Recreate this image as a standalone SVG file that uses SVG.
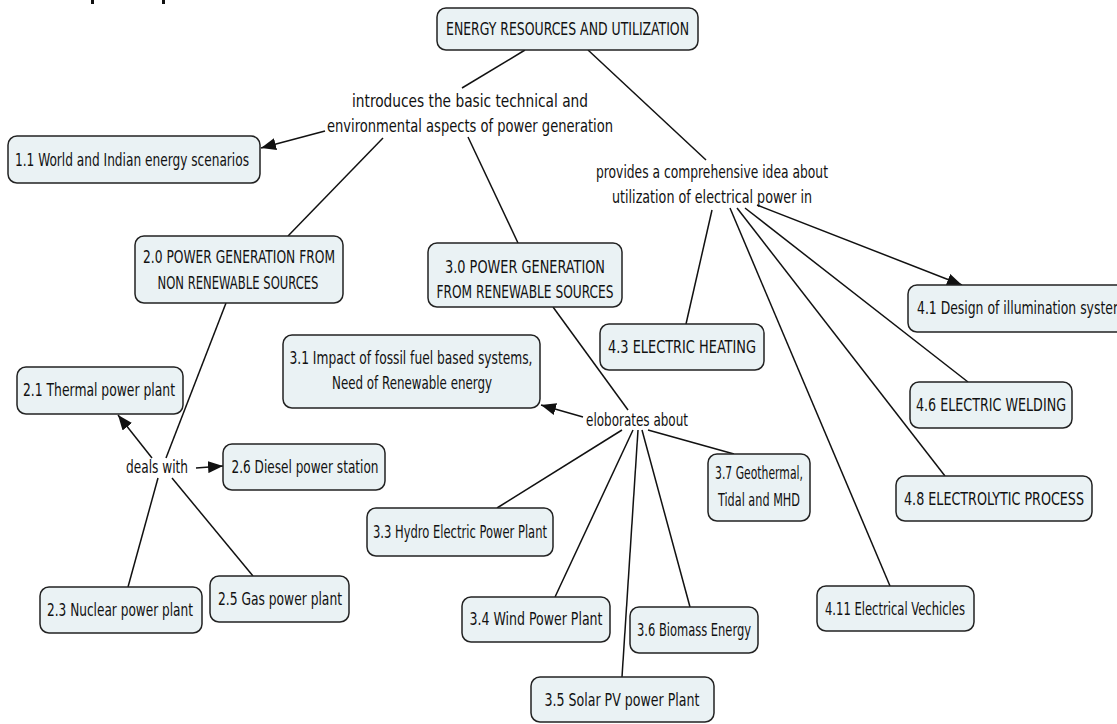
<svg xmlns="http://www.w3.org/2000/svg" width="1117" height="724" viewBox="0 0 1117 724">
<defs>
<style>
.n rect{fill:#eaf2f4;stroke:#222;stroke-width:1.5}
text{font-family:"DejaVu Sans Condensed","DejaVu Sans","Liberation Sans",sans-serif;font-size:17px;fill:#111;text-anchor:middle}
.c line{stroke:#111;stroke-width:1.5}
.a{marker-end:url(#ah)}
</style>
<marker id="ah" markerUnits="userSpaceOnUse" markerWidth="16" markerHeight="12" refX="15" refY="6" orient="auto" viewBox="0 0 16 12">
<path d="M0,0 L15,6 L0,12 Z" fill="#111"/>
</marker>
</defs>
<rect width="1117" height="724" fill="#fff"/>
<rect x="91" y="0" width="3" height="4" fill="#111"/>
<rect x="162" y="0" width="3" height="4" fill="#111"/>
<g id="connectors" class="c">
<line x1="525" y1="50" x2="462" y2="88"/>
<line class="a" x1="325" y1="131" x2="261" y2="148"/>
<line x1="383" y1="138" x2="288" y2="236"/>
<line x1="468" y1="137" x2="518" y2="243"/>
<line x1="588" y1="50" x2="706" y2="160"/>
<line x1="712" y1="210" x2="686" y2="324"/>
<line class="a" x1="757" y1="205" x2="962" y2="285"/>
<line x1="745" y1="208" x2="968" y2="382"/>
<line x1="737" y1="208" x2="945" y2="476"/>
<line x1="730" y1="208" x2="890" y2="586"/>
<line x1="226" y1="303" x2="166" y2="458"/>
<line class="a" x1="152" y1="458" x2="118" y2="415"/>
<line class="a" x1="196" y1="468" x2="223" y2="466"/>
<line x1="158" y1="478" x2="128" y2="587"/>
<line x1="172" y1="478" x2="253" y2="576"/>
<line x1="553" y1="307" x2="628" y2="410"/>
<line class="a" x1="583" y1="417" x2="541" y2="405"/>
<line x1="622" y1="430" x2="497" y2="508"/>
<line x1="633" y1="430" x2="555" y2="597"/>
<line x1="638" y1="430" x2="622" y2="677"/>
<line x1="642" y1="430" x2="690" y2="607"/>
<line x1="648" y1="430" x2="734" y2="454"/>
</g>
<g id="root" class="n"><rect x="437" y="8" width="261" height="42" rx="9"/><text x="567.5" y="35" textLength="243" lengthAdjust="spacingAndGlyphs">ENERGY RESOURCES AND UTILIZATION</text></g>
<g id="lp-introduces"><text x="470" y="107" textLength="236" lengthAdjust="spacingAndGlyphs">introduces the basic technical and</text><text x="470" y="132" textLength="286" lengthAdjust="spacingAndGlyphs">environmental aspects of power generation</text></g>
<g id="lp-provides"><text x="712" y="178" textLength="232" lengthAdjust="spacingAndGlyphs">provides a comprehensive idea about</text><text x="712" y="203" textLength="200" lengthAdjust="spacingAndGlyphs">utilization of electrical power in</text></g>
<g id="lp-deals"><text x="157" y="473" textLength="62" lengthAdjust="spacingAndGlyphs">deals with</text></g>
<g id="lp-eloborates"><text x="637" y="426" textLength="102" lengthAdjust="spacingAndGlyphs">eloborates about</text></g>
<g id="n11" class="n"><rect x="8" y="136" width="252" height="47" rx="9"/><text x="132" y="166" textLength="234" lengthAdjust="spacingAndGlyphs">1.1 World and Indian energy scenarios</text></g>
<g id="n20" class="n"><rect x="135" y="236" width="208" height="67" rx="9"/><text x="239" y="263" textLength="192" lengthAdjust="spacingAndGlyphs">2.0 POWER GENERATION FROM</text><text x="238" y="289" textLength="161" lengthAdjust="spacingAndGlyphs">NON RENEWABLE SOURCES</text></g>
<g id="n30" class="n"><rect x="428" y="243" width="194" height="64" rx="9"/><text x="525" y="273" textLength="160" lengthAdjust="spacingAndGlyphs">3.0 POWER GENERATION</text><text x="525" y="298" textLength="177" lengthAdjust="spacingAndGlyphs">FROM RENEWABLE SOURCES</text></g>
<g id="n31" class="n"><rect x="283" y="335" width="257" height="73" rx="9"/><text x="411" y="364" textLength="243" lengthAdjust="spacingAndGlyphs">3.1 Impact of fossil fuel based systems,</text><text x="412" y="389" textLength="160" lengthAdjust="spacingAndGlyphs">Need of Renewable energy</text></g>
<g id="n21" class="n"><rect x="17" y="367" width="166" height="47" rx="9"/><text x="99" y="396" textLength="152" lengthAdjust="spacingAndGlyphs">2.1 Thermal power plant</text></g>
<g id="n26" class="n"><rect x="223" y="444" width="162" height="46" rx="9"/><text x="305" y="473" textLength="147" lengthAdjust="spacingAndGlyphs">2.6 Diesel power station</text></g>
<g id="n23" class="n"><rect x="40" y="587" width="162" height="46" rx="9"/><text x="120" y="616" textLength="146" lengthAdjust="spacingAndGlyphs">2.3 Nuclear power plant</text></g>
<g id="n25" class="n"><rect x="210" y="576" width="139" height="46" rx="9"/><text x="280" y="605" textLength="124" lengthAdjust="spacingAndGlyphs">2.5 Gas power plant</text></g>
<g id="n33" class="n"><rect x="367" y="508" width="186" height="48" rx="9"/><text x="460" y="538" textLength="174" lengthAdjust="spacingAndGlyphs">3.3 Hydro Electric Power Plant</text></g>
<g id="n34" class="n"><rect x="462" y="597" width="148" height="45" rx="9"/><text x="536" y="625" textLength="133" lengthAdjust="spacingAndGlyphs">3.4 Wind Power Plant</text></g>
<g id="n35" class="n"><rect x="531" y="677" width="183" height="45" rx="9"/><text x="622" y="706" textLength="155" lengthAdjust="spacingAndGlyphs">3.5 Solar PV power Plant</text></g>
<g id="n36" class="n"><rect x="630" y="607" width="128" height="46" rx="9"/><text x="694" y="636" textLength="114" lengthAdjust="spacingAndGlyphs">3.6 Biomass Energy</text></g>
<g id="n37" class="n"><rect x="708" y="454" width="102" height="67" rx="9"/><text x="759" y="479" textLength="88" lengthAdjust="spacingAndGlyphs">3.7 Geothermal,</text><text x="759" y="506" textLength="82" lengthAdjust="spacingAndGlyphs">Tidal and MHD</text></g>
<g id="n43" class="n"><rect x="600" y="324" width="164" height="46" rx="9"/><text x="682" y="353" textLength="148" lengthAdjust="spacingAndGlyphs">4.3 ELECTRIC HEATING</text></g>
<g id="n41" class="n"><rect x="908" y="285" width="230" height="47" rx="9"/><text x="917" y="314" style="text-anchor:start" textLength="208" lengthAdjust="spacingAndGlyphs">4.1 Design of illumination system</text></g>
<g id="n46" class="n"><rect x="910" y="382" width="162" height="46" rx="9"/><text x="991" y="411" textLength="150" lengthAdjust="spacingAndGlyphs">4.6 ELECTRIC WELDING</text></g>
<g id="n48" class="n"><rect x="896" y="476" width="196" height="45" rx="9"/><text x="994" y="505" textLength="180" lengthAdjust="spacingAndGlyphs">4.8 ELECTROLYTIC PROCESS</text></g>
<g id="n411" class="n"><rect x="817" y="586" width="157" height="45" rx="9"/><text x="895" y="615" textLength="140" lengthAdjust="spacingAndGlyphs">4.11 Electrical Vechicles</text></g>
</svg>
